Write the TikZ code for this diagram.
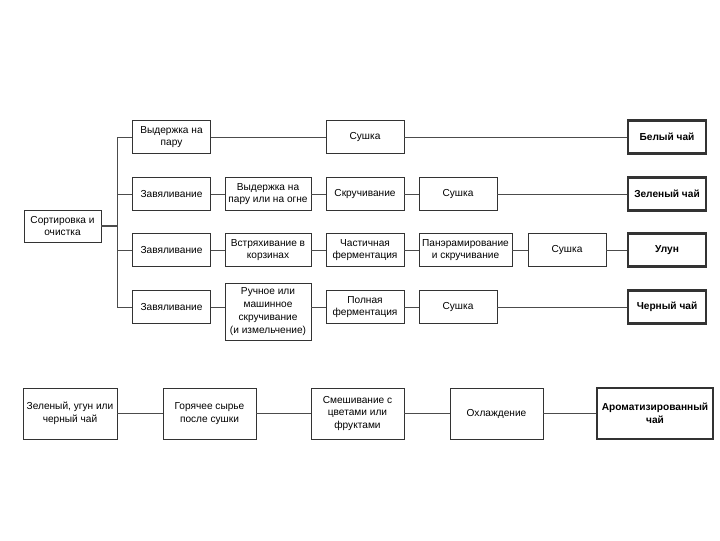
\documentclass[tikz,border=0pt]{standalone}
\usepackage{fontspec}
\setmainfont{Liberation Sans}
\usetikzlibrary{positioning}

\tikzset{
  stage/.style={draw=black!80, line width=0.6pt, fill=white, align=center,
    inner sep=1pt, minimum width=58.5pt, minimum height=24.75pt,
    font=\fontsize{7.6}{9.6}\selectfont},
  tea/.style={stage, line width=1.6pt, font=\fontsize{7.6}{9.6}\selectfont\bfseries},
  link/.style={draw=black!70, line width=0.6pt}
}

\begin{document}
\begin{tikzpicture}[x=0.75pt,y=-0.75pt]
  \useasboundingbox (0,0) rectangle (720,540);

  % Start
  \node[stage, minimum width=57.75pt, minimum height=24pt] (sort) at (62.5,226) {Сортировка и\\очистка};
  \coordinate (fork) at (117,226);

  % First column
  \node[stage] (steam) at (171.5,137) {Выдержка на\\пару};
  \node[stage] (wither2) at (171.5,194) {Завяливание};
  \node[stage] (wither3) at (171.5,250) {Завяливание};
  \node[stage] (wither4) at (171.5,307) {Завяливание};

  % Second column
  \node[stage, minimum width=64.5pt] (steamfire) at (268,194) {Выдержка на\\пару или на огне};
  \node[stage, minimum width=64.5pt] (shake) at (268,250) {Встряхивание в\\корзинах};
  \node[stage, minimum width=64.5pt, minimum height=42.75pt] (roll4) at (268,311.5) {Ручное или\\машинное\\скручивание\\(и измельчение)};

  % Third column
  \node[stage] (dry1) at (365,137) {Сушка};
  \node[stage] (roll2) at (365,194) {Скручивание};
  \node[stage] (partferm) at (365,250) {Частичная\\ферментация};
  \node[stage] (fullferm) at (365,307) {Полная\\ферментация};

  % Fourth and fifth columns
  \node[stage] (dry2) at (458,194) {Сушка};
  \node[stage, minimum width=69.75pt] (pan3) at (465.5,250) {Панэрамирование\\и скручивание};
  \node[stage] (dry4) at (458,307) {Сушка};
  \node[stage] (dry3) at (567,250) {Сушка};

  % Teas
  \node[tea] (white) at (667,137) {Белый чай};
  \node[tea] (green) at (667,194) {Зеленый чай};
  \node[tea] (oolong) at (667,250) {Улун};
  \node[tea] (black) at (667,307) {Черный чай};

  % Fork
  \draw[link, line width=1.4pt] (sort.east) -- (fork);
  \draw[link] (fork |- steam) -- (fork |- wither4);
  \foreach \n in {steam,wither2,wither3,wither4}
    \draw[link] (fork |- \n) -- (\n.west);

  % Rows
  \draw[link] (steam) -- (dry1) -- (white);
  \draw[link] (wither2) -- (steamfire) -- (roll2) -- (dry2) -- (green);
  \draw[link] (wither3) -- (shake) -- (partferm) -- (pan3) -- (dry3) -- (oolong);
  \draw[link] (wither4.east) -- (wither4.east -| roll4.west);
  \draw[link] (roll4.east |- fullferm) -- (fullferm.west);
  \draw[link] (fullferm) -- (dry4) -- (black);

  % Flavoured tea
  \node[stage, minimum width=70.5pt, minimum height=38.25pt] (base) at (70,413.5) {Зеленый, угун или\\черный чай};
  \node[stage, minimum width=69.75pt, minimum height=38.25pt] (hot) at (209.5,413.5) {Горячее сырье\\после сушки};
  \node[stage, minimum width=69.75pt, minimum height=38.25pt] (mix) at (357.5,413.5) {Смешивание с\\цветами или\\фруктами};
  \node[stage, minimum width=69.75pt, minimum height=38.25pt] (cool) at (496.5,413.5) {Охлаждение};
  \node[tea, minimum width=87pt, minimum height=38.25pt] (aroma) at (655,413.5) {Ароматизированный\\чай};
  \draw[link] (base) -- (hot) -- (mix) -- (cool) -- (aroma);
\end{tikzpicture}
\end{document}
